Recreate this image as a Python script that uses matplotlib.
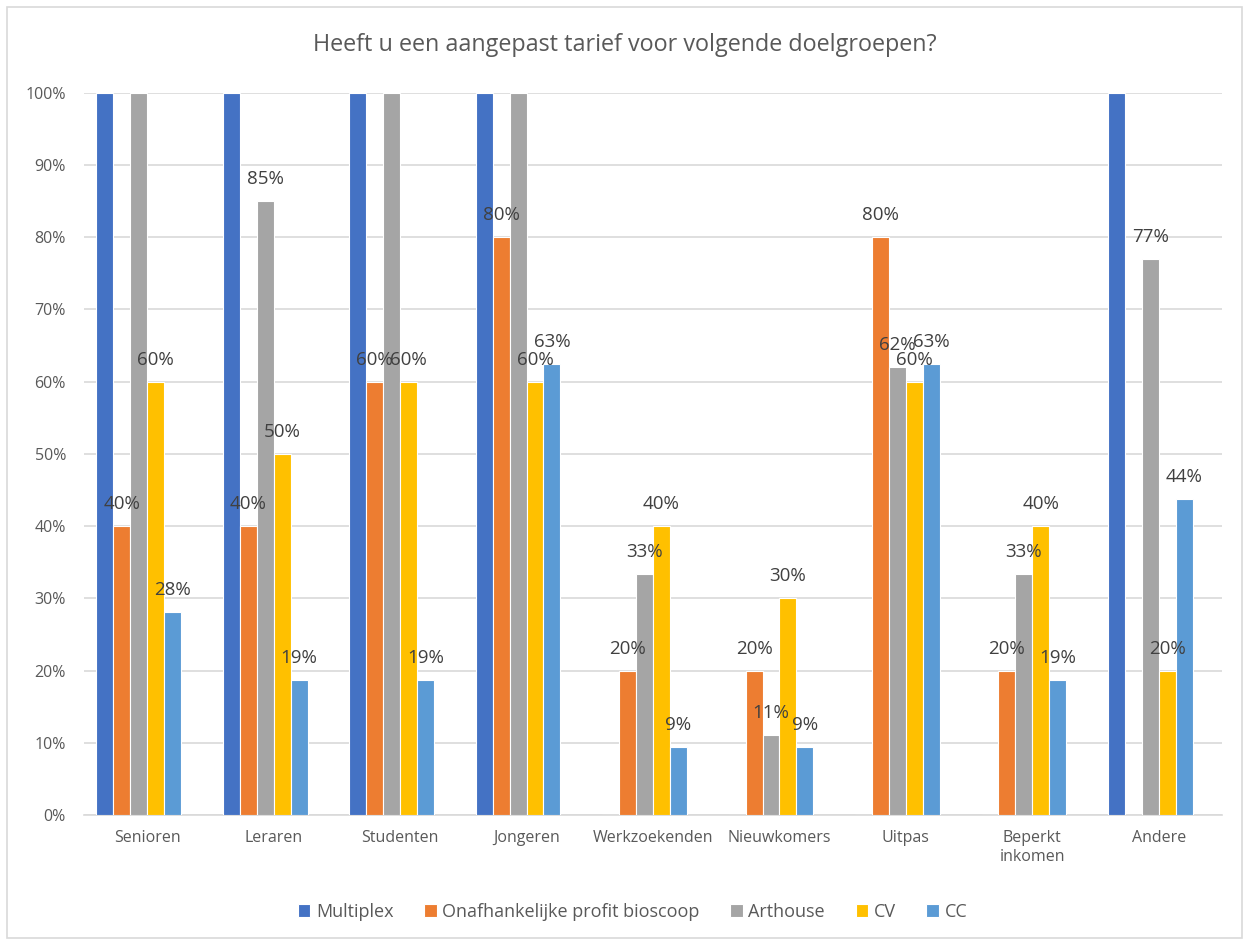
import numpy as np
import matplotlib.pyplot as plt
from matplotlib.patches import Rectangle

plt.rcParams['font.family'] = ['Open Sans', 'DejaVu Sans']

categories = ['Senioren', 'Leraren', 'Studenten', 'Jongeren', 'Werkzoekenden',
              'Nieuwkomers', 'Uitpas', 'Beperkt\ninkomen', 'Andere']

multiplex = [1.00, 1.00, 1.00, 1.00, 0.00, 0.00, 0.00, 0.00, 1.00]
onafhankelijk = [0.40, 0.40, 0.60, 0.80, 0.20, 0.20, 0.80, 0.20, 0.00]
arthouse = [1.00, 0.85, 1.00, 1.00, 0.333, 0.111, 0.62, 0.333, 0.77]
cv = [0.60, 0.50, 0.60, 0.60, 0.40, 0.30, 0.60, 0.40, 0.20]
cc = [0.281, 0.1875, 0.1875, 0.625, 0.094, 0.094, 0.625, 0.1875, 0.4375]

series = [
    ('Multiplex', multiplex, '#4472C4'),
    ('Onafhankelijke profit bioscoop', onafhankelijk, '#ED7D31'),
    ('Arthouse', arthouse, '#A5A5A5'),
    ('CV', cv, '#FFC000'),
    ('CC', cc, '#5B9BD5'),
]

tekst = '#595959'
fig = plt.figure(figsize=(12.5, 9.43), dpi=100)
ax = fig.add_axes([0.0672, 0.1357, 0.9104, 0.766])

x = np.arange(len(categories))
w = 0.134
for i, (naam, vals, kleur) in enumerate(series):
    pos = x + (i - 2.5) * w
    bars = ax.bar(pos, vals, width=w, color=kleur, edgecolor='white',
                  linewidth=0.8, label=naam, zorder=3)
    for b, v in zip(bars, vals):
        if 0 < v < 1:
            ax.text(b.get_x() + b.get_width() / 2, v + 0.018, f'{int(v * 100 + 0.5)}%',
                    ha='center', va='bottom', fontsize=13.5, color='#404040', zorder=4)

ax.set_xlim(-0.5, len(categories) - 0.5)
ax.set_ylim(0, 1)
ax.set_yticks(np.arange(0, 1.01, 0.1))
ax.set_yticklabels([f'{int(round(t * 100))}%' for t in np.arange(0, 1.01, 0.1)])
ax.set_xticks(x)
ax.set_xticklabels(categories)
ax.tick_params(axis='both', length=0, labelsize=11.5, colors=tekst)
ax.tick_params(axis='y', pad=13)
ax.tick_params(axis='x', pad=11)
ax.grid(axis='y', color='#D9D9D9', linewidth=1.2, zorder=0)
for s in ['top', 'right', 'left']:
    ax.spines[s].set_visible(False)
ax.spines['bottom'].set_color('#D9D9D9')
ax.spines['bottom'].set_linewidth(1.2)

fig.text(0.5, 0.952, 'Heeft u een aangepast tarief voor volgende doelgroepen?',
         ha='center', va='center', fontsize=16.8, color=tekst)

fig.legend(loc='center', bbox_to_anchor=(0.506, 0.033), ncol=5, frameon=False,
           fontsize=13, labelcolor=tekst, handlelength=0.7, handleheight=0.7,
           handletextpad=0.3, columnspacing=1.7)

# rand rond de hele grafiek
fig.patches.append(Rectangle((0.0056, 0.005), 0.988, 0.988, transform=fig.transFigure,
                             fill=False, edgecolor='#D9D9D9', linewidth=1.2))

plt.savefig('out.png', dpi=100)
